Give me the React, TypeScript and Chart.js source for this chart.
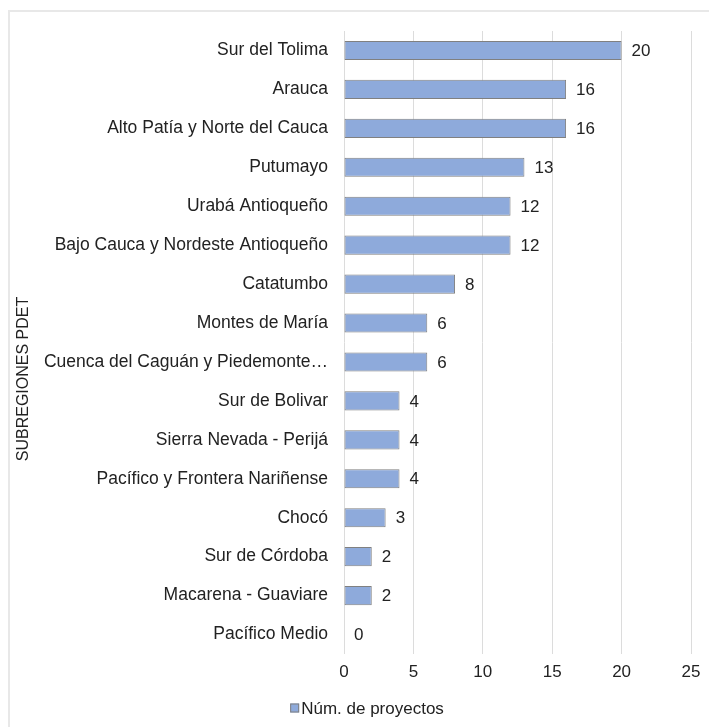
import React, { useEffect, useRef } from "react";
import { Chart, registerables } from "chart.js";

Chart.register(...registerables);

const categories: string[] = [
  "Sur del Tolima",
  "Arauca",
  "Alto Patía y Norte del Cauca",
  "Putumayo",
  "Urabá Antioqueño",
  "Bajo Cauca y Nordeste Antioqueño",
  "Catatumbo",
  "Montes de María",
  "Cuenca del Caguán y Piedemonte…",
  "Sur de Bolivar",
  "Sierra Nevada - Perijá",
  "Pacífico y Frontera Nariñense",
  "Chocó",
  "Sur de Córdoba",
  "Macarena - Guaviare",
  "Pacífico Medio",
];

const projectCounts: number[] = [20, 16, 16, 13, 12, 12, 8, 6, 6, 4, 4, 4, 3, 2, 2, 0];

const seriesName = "Núm. de proyectos";
const axisTitle = "SUBREGIONES PDET";
const xTicks = { min: 0, max: 25, step: 5 };

const FONT = "'Liberation Sans', Arial, sans-serif";
const TEXT = "#222222";
const BAR_FILL = "#8EAADB";
const BAR_EDGE = "#808080";

const valueLabels = {
  id: "valueLabels",
  afterDatasetsDraw(chart: any) {
    const ctx = chart.ctx;
    const meta = chart.getDatasetMeta(0);
    const data = chart.data.datasets[0].data;
    ctx.save();
    ctx.font = `17px ${FONT}`;
    ctx.fillStyle = TEXT;
    ctx.textAlign = "left";
    ctx.textBaseline = "middle";
    meta.data.forEach((bar: any, i: number) => {
      ctx.fillText(String(data[i]), bar.x + 10, bar.y + 1);
    });
    ctx.restore();
  },
};

const yTitle = {
  id: "yTitle",
  afterDraw(chart: any) {
    const ctx = chart.ctx;
    const area = chart.chartArea;
    ctx.save();
    ctx.font = `16px ${FONT}`;
    ctx.fillStyle = TEXT;
    ctx.textAlign = "center";
    ctx.textBaseline = "middle";
    ctx.translate(14, (area.top + chart.height) / 2);
    ctx.rotate(-Math.PI / 2);
    ctx.fillText(axisTitle, 0, 0);
    ctx.restore();
  },
};

const customLegend = {
  id: "customLegend",
  afterDraw(chart: any) {
    const ctx = chart.ctx;
    const label = chart.data.datasets[0].label;
    ctx.save();
    ctx.font = `17px ${FONT}`;
    const tw = ctx.measureText(label).width;
    const box = 9;
    const gap = 2;
    const total = box + gap + tw;
    const cx = chart.width / 2;
    const cy = chart.chartArea.bottom + 54;
    const x0 = cx - total / 2;
    ctx.fillStyle = BAR_FILL;
    ctx.fillRect(x0, cy - box / 2, box, box);
    ctx.strokeStyle = BAR_EDGE;
    ctx.lineWidth = 1;
    ctx.strokeRect(x0 + 0.5, cy - box / 2 + 0.5, box - 1, box - 1);
    ctx.fillStyle = TEXT;
    ctx.textAlign = "left";
    ctx.textBaseline = "middle";
    ctx.fillText(label, x0 + box + gap, cy + 1);
    ctx.restore();
  },
};

export default function App() {
  const ref = useRef<HTMLCanvasElement | null>(null);

  useEffect(() => {
    if (!ref.current) return;
    const chart = new Chart(ref.current, {
      type: "bar",
      data: {
        labels: categories,
        datasets: [
          {
            label: seriesName,
            data: projectCounts,
            backgroundColor: BAR_FILL,
            borderColor: BAR_EDGE,
            borderWidth: 1,
            borderSkipped: false,
            barPercentage: 0.49,
            categoryPercentage: 1,
          },
        ],
      },
      options: {
        indexAxis: "y",
        animation: false,
        responsive: false,
        layout: { padding: { top: 19, right: 33, left: 0, bottom: 37.5 } },
        scales: {
          x: {
            min: xTicks.min,
            max: xTicks.max,
            ticks: {
              stepSize: xTicks.step,
              padding: 8,
              color: TEXT,
              font: { family: FONT, size: 17 },
            },
            grid: { color: "#dcdcdc", lineWidth: 1, drawTicks: false },
            border: { display: false },
            afterFit: (scale: any) => {
              scale.height = 35.5;
            },
          },
          y: {
            ticks: {
              padding: 16,
              color: TEXT,
              autoSkip: false,
              font: { family: FONT, size: 17.5 },
            },
            grid: { display: false, drawTicks: false },
            border: { display: false },
            afterFit: (scale: any) => {
              scale.width = 334;
              scale.paddingTop = 0;
              scale.paddingBottom = 0;
            },
          },
        },
        plugins: {
          legend: { display: false },
          tooltip: { enabled: false },
        },
      },
      plugins: [valueLabels, yTitle, customLegend],
    });
    return () => chart.destroy();
  }, []);

  return (
    <div
      style={{
        position: "fixed",
        left: 8,
        top: 10,
        width: 701,
        height: 717,
        overflow: "hidden",
        borderLeft: "2px solid #e8e8e8",
        borderTop: "2px solid #e8e8e8",
        background: "#fff",
      }}
    >
      <canvas ref={ref} width={714} height={715} style={{ display: "block" }} />
    </div>
  );
}
